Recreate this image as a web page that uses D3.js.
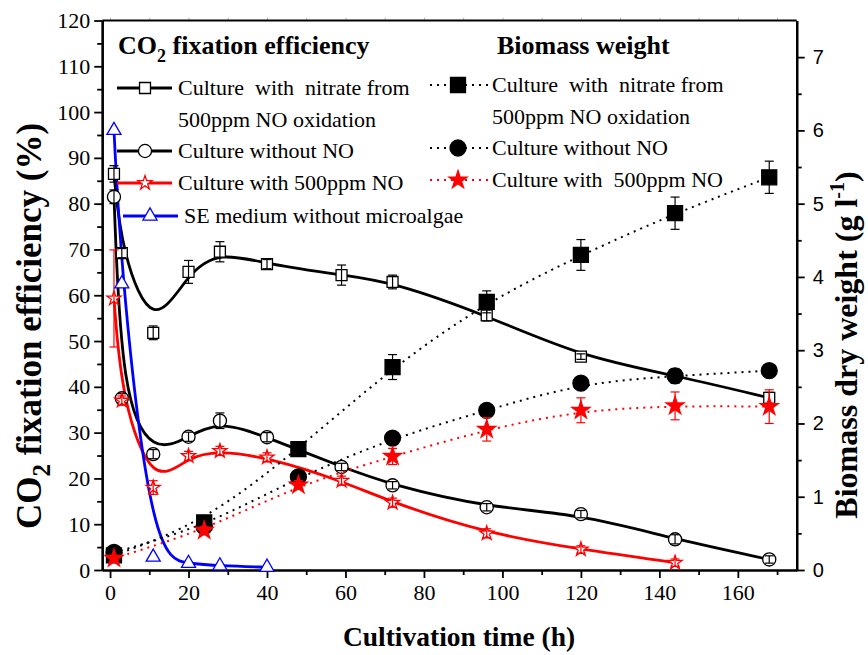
<!DOCTYPE html>
<html>
<head>
<meta charset="utf-8">
<script src="https://cdn.jsdelivr.net/npm/d3@7"></script>
<style>
  body { margin: 0; background: #fff; }
  svg { display: block; }
  .serif { font-family: "Liberation Serif", "DejaVu Serif", "Times New Roman", Times, serif; }
  .sans { font-family: "Liberation Sans", Arial, sans-serif; }
</style>
</head>
<body>
<svg id="chart" width="868" height="655"></svg>
<script>
// ---- Data ----
// CO2 fixation efficiency (%), sampled at these cultivation times (h)
const timeCO2 = [1, 3, 11, 20, 28, 40, 59, 72, 96, 120, 144, 168];
const co2Nitrate    = [86.5, 69.2, 51.8, 65.1, 69.5, 66.8, 64.4, 62.9, 55.6, 46.6, 42.5, 37.6];
const co2NitrateErr = [1.8, 1.0, 1.5, 2.5, 2.2, 1.0, 2.2, 1.5, 1.2, 0.6, 1.0, 1.2];
const co2NoNO       = [81.5, 37.5, 25.3, 29.1, 32.6, 29.0, 22.5, 18.5, 13.7, 12.2, 6.7, 2.3];
const co2NoNOErr    = [1.5, 1.0, 1.0, 1.0, 1.7, 1.0, 0.8, 0.8, 0.8, 0.8, 1.0, 0.8];
const timeCO2NO = [1, 3, 11, 20, 28, 40, 59, 72, 96, 120, 144];
const co2WithNO     = [59.3, 37.0, 18.0, 24.9, 26.0, 24.6, 19.5, 14.7, 8.0, 4.5, 1.6];
const co2WithNOErr  = [10.6, 1.0, 1.5, 1.0, 1.0, 1.0, 1.0, 1.0, 1.0, 0.8, 0.8];
const timeSE = [1, 3, 11, 20, 28, 40];
const co2SE = [96.0, 62.5, 2.8, 1.45, 0.9, 0.6];

// Biomass dry weight (g/L)
const timeBio = [1, 24, 48, 72, 96, 120, 144, 168];
const bioNitrate    = [0.20, 0.65, 1.65, 2.77, 3.66, 4.30, 4.87, 5.36];
const bioNitrateErr = [0.05, 0.05, 0.06, 0.17, 0.15, 0.21, 0.22, 0.22];
const bioNoNO       = [0.24, 0.59, 1.27, 1.80, 2.18, 2.55, 2.65, 2.72];
const bioNoNOErr    = [0.04, 0.05, 0.05, 0.07, 0.07, 0.08, 0.10, 0.06];
const bioWithNO     = [0.16, 0.54, 1.16, 1.55, 1.92, 2.18, 2.24, 2.23];
const bioWithNOErr  = [0.04, 0.05, 0.06, 0.11, 0.16, 0.17, 0.19, 0.23];

// Axis ticks
const xMajor = [0, 20, 40, 60, 80, 100, 120, 140, 160];
const xMinor = [10, 30, 50, 70, 90, 110, 130, 150, 170];
const yLeftMajor = [0, 10, 20, 30, 40, 50, 60, 70, 80, 90, 100, 110, 120];
const yRightMajor = [0, 1, 2, 3, 4, 5, 6, 7];

// ---- Layout ----
const svg = d3.select("#chart");
const L = 102.2, R = 796.7, T = 20.5, B = 570;
const x = d3.scaleLinear().domain([-2, 175]).range([L, R]);
const yL = d3.scaleLinear().domain([0, 120]).range([B, T]);
const yR = d3.scaleLinear().domain([0, 7.5]).range([B, T]);

// ---- Axes ----
function styleTicks(g, size, cls) {
  g.attr("font-family", null).attr("font-size", null);
  g.selectAll("text").attr("class", cls).attr("font-size", size).attr("fill", "#000");
}
const axX = svg.append("g").attr("transform", `translate(0,${B})`)
  .call(d3.axisBottom(x).tickValues(xMajor).tickSize(8).tickSizeOuter(0).tickPadding(6));
svg.append("g").attr("transform", `translate(0,${B})`)
  .call(d3.axisBottom(x).tickValues(xMinor).tickSize(5).tickFormat("").tickSizeOuter(0));
styleTicks(axX, 22, "serif");

const axL = svg.append("g").attr("transform", `translate(${L},0)`)
  .call(d3.axisLeft(yL).tickValues(yLeftMajor).tickSize(8).tickSizeOuter(0).tickPadding(4));
svg.append("g").attr("transform", `translate(${L},0)`)
  .call(d3.axisLeft(yL).tickValues(d3.range(5, 120, 10)).tickSize(5).tickFormat("").tickSizeOuter(0));
styleTicks(axL, 22, "serif");

const axR = svg.append("g").attr("transform", `translate(${R},0)`)
  .call(d3.axisRight(yR).tickValues(yRightMajor).tickSize(8).tickSizeOuter(0).tickPadding(8));
svg.append("g").attr("transform", `translate(${R},0)`)
  .call(d3.axisRight(yR).tickValues(d3.range(0.5, 7.5, 1)).tickSize(5).tickFormat("").tickSizeOuter(0));
styleTicks(axR, 20, "sans");

svg.selectAll(".domain").attr("stroke", "#000").attr("stroke-width", 2.2);
svg.selectAll(".tick line").attr("stroke", "#000").attr("stroke-width", 1.8);

// faint mirrored ticks on the top edge
svg.append("g").attr("transform", `translate(0,${T})`)
  .call(d3.axisTop(x).tickValues(xMajor.concat(xMinor)).tickSize(3).tickFormat("").tickSizeOuter(0))
  .call(g => g.selectAll("line").attr("stroke", "#bbb"))
  .call(g => g.select(".domain").remove());

// frame top
svg.append("line").attr("x1", L).attr("x2", R).attr("y1", T).attr("y2", T)
  .attr("stroke", "#000").attr("stroke-width", 2.2);

// ---- Axis titles ----
svg.append("text").attr("class", "serif").attr("x", 459).attr("y", 646).attr("text-anchor", "middle")
  .attr("font-size", 27.5).attr("font-weight", "bold").text("Cultivation time (h)");

const lt = svg.append("text").attr("class", "serif").attr("transform", "translate(41,326) rotate(-90)")
  .attr("text-anchor", "middle").attr("font-size", 35).attr("font-weight", "bold");
lt.append("tspan").text("CO");
lt.append("tspan").attr("font-size", 25).attr("dy", 9).text("2");
lt.append("tspan").attr("dy", -9).text(" fixation efficiency (%)");

const rt = svg.append("text").attr("class", "serif").attr("transform", "translate(857,345) rotate(-90)")
  .attr("text-anchor", "middle").attr("font-size", 32).attr("font-weight", "bold");
rt.append("tspan").text("Biomass dry weight (g l");
rt.append("tspan").attr("font-size", 20).attr("dy", -13).text("-1");
rt.append("tspan").attr("dy", 13).text(")");

// ---- Series ----
const RED = "#ff0000", BLUE = "#0000ff", BLACK = "#000";
const sym = {
  square: d3.symbolSquare, circle: d3.symbolCircle,
  star: d3.symbolStar, triangle: d3.symbolTriangle
};
function pts(t, v, e) { return t.map((d, i) => ({ t: d, v: v[i], e: e ? e[i] : 0 })); }

const co2Series = [
  { data: pts(timeCO2, co2Nitrate, co2NitrateErr), color: BLACK, shape: "square", size: 120, fill: "#fff" },
  { data: pts(timeCO2, co2NoNO, co2NoNOErr), color: BLACK, shape: "circle", size: 135, fill: "#fff" },
  { data: pts(timeCO2NO, co2WithNO, co2WithNOErr), color: RED, shape: "star", size: 62, fill: "#fff" },
  { data: pts(timeSE, co2SE, null), color: BLUE, shape: "triangle", size: 85, fill: "#fff" }
];
const bioSeries = [
  { data: pts(timeBio, bioNitrate, bioNitrateErr), color: BLACK, shape: "square", size: 225, fill: BLACK },
  { data: pts(timeBio, bioNoNO, bioNoNOErr), color: BLACK, shape: "circle", size: 200, fill: BLACK },
  { data: pts(timeBio, bioWithNO, bioWithNOErr), color: RED, shape: "star", size: 100, fill: RED }
];

function drawLine(s, y, dashed) {
  const line = d3.line().x(d => x(d.t)).y(d => y(d.v)).curve(d3.curveBasis);
  svg.append("path").datum(s.data).attr("d", line).attr("fill", "none")
    .attr("stroke", s.color)
    .attr("stroke-width", dashed ? 2 : 2.8)
    .attr("stroke-dasharray", dashed ? "2,5" : null);
}
function drawMarks(s, y) {
  const g = svg.append("g");
  g.selectAll("path").data(s.data).join("path")
    .attr("transform", d => `translate(${x(d.t)},${y(d.v)})`)
    .attr("d", d3.symbol().type(sym[s.shape]).size(s.size))
    .attr("fill", s.fill).attr("stroke", s.color).attr("stroke-width", 1.3);
  const eb = svg.append("g").attr("stroke", s.color).attr("stroke-width", 1.2);
  s.data.filter(d => d.e > 0).forEach(d => {
    const cx = x(d.t), y1 = y(d.v - d.e), y2 = y(d.v + d.e);
    eb.append("line").attr("x1", cx).attr("x2", cx).attr("y1", y1).attr("y2", y2);
    eb.append("line").attr("x1", cx - 4.5).attr("x2", cx + 4.5).attr("y1", y1).attr("y2", y1);
    eb.append("line").attr("x1", cx - 4.5).attr("x2", cx + 4.5).attr("y1", y2).attr("y2", y2);
  });
}

co2Series.forEach(s => drawLine(s, yL, false));
co2Series.forEach(s => drawMarks(s, yL));
bioSeries.forEach(s => drawLine(s, yR, true));
bioSeries.forEach(s => drawMarks(s, yR));

// ---- Legends ----
function legendTitle(xp, yp, parts) {
  const t = svg.append("text").attr("class", "serif").attr("x", xp).attr("y", yp)
    .attr("font-size", 26).attr("font-weight", "bold");
  parts.forEach(p => {
    const ts = t.append("tspan").text(p.text);
    if (p.sub) ts.attr("font-size", 18).attr("dy", 8);
    if (p.back) ts.attr("dy", -8);
  });
}
function legendItem(x1, x2, mx, tx, yp, s, dashed, lines) {
  svg.append("line").attr("x1", x1).attr("x2", x2).attr("y1", yp).attr("y2", yp)
    .attr("stroke", s.color).attr("stroke-width", dashed ? 2 : 2.8)
    .attr("stroke-dasharray", dashed ? "2,5" : null);
  svg.append("path").attr("transform", `translate(${mx},${yp})`)
    .attr("d", d3.symbol().type(sym[s.shape]).size(s.size))
    .attr("fill", s.fill).attr("stroke", s.color).attr("stroke-width", 1.3);
  lines.forEach((ln, i) => {
    svg.append("text").attr("class", "serif").attr("x", tx).attr("y", yp + 7 + i * 31.5)
      .attr("font-size", 22).attr("xml:space", "preserve").style("white-space", "pre").text(ln);
  });
}

legendTitle(118, 54, [{ text: "CO" }, { text: "2", sub: true }, { text: " fixation efficiency", back: true }]);
legendItem(117, 172, 145, 178, 88, co2Series[0], false, ["Culture  with  nitrate from", "500ppm NO oxidation"]);
legendItem(117, 172, 145, 178, 151, co2Series[1], false, ["Culture without NO"]);
legendItem(117, 172, 145, 178, 183, co2Series[2], false, ["Culture with 500ppm NO"]);
legendItem(123, 178, 150, 184, 216, co2Series[3], false, ["SE medium without microalgae"]);

legendTitle(497, 54, [{ text: "Biomass weight" }]);
legendItem(430, 488, 458, 492, 85, bioSeries[0], true, ["Culture  with  nitrate from", "500ppm NO oxidation"]);
legendItem(430, 488, 458, 492, 148, bioSeries[1], true, ["Culture without NO"]);
legendItem(430, 488, 458, 492, 180, bioSeries[2], true, ["Culture with  500ppm NO"]);
</script>
</body>
</html>
